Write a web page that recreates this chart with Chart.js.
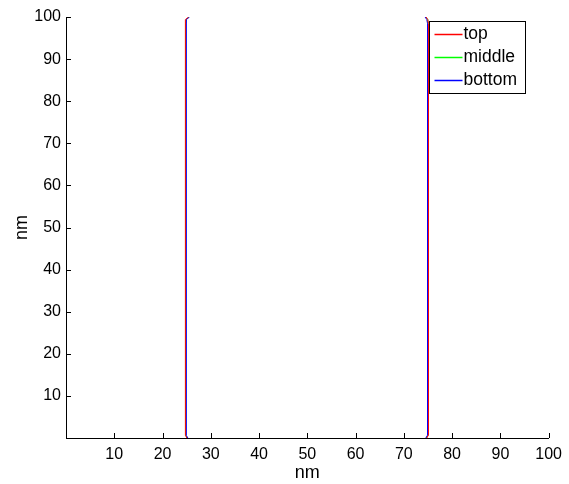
<!DOCTYPE html>
<html>
<head>
<meta charset="utf-8">
<script src="https://cdn.jsdelivr.net/npm/chart.js@4/dist/chart.umd.min.js"></script>
<style>
  html, body { margin: 0; padding: 0; background: #fff; }
  #wrap { width: 569px; height: 484px; }
</style>
</head>
<body>
<div id="wrap"><canvas id="myChart" width="569" height="484"></canvas></div>
<script>
Chart.defaults.font.family = '"Liberation Sans", Arial, sans-serif';
Chart.defaults.color = '#000';

// y positions shared by every curve
var yVals = [0, 0.6, 1.5, 50, 98.5, 99.4, 100];

// x positions of the left and right boundary, per series
var topLeft = [25.05, 24.75, 24.7, 24.7, 24.7, 24.85, 25.4];
var topRight = [74.75, 75.05, 75.1, 75.1, 75.1, 74.95, 74.6];
var midLeft = [25.15, 24.85, 24.8, 24.8, 24.8, 24.95, 25.5];
var midRight = [74.65, 74.95, 75.0, 75.0, 75.0, 74.85, 74.5];
var botLeft = [25.25, 24.95, 24.9, 24.9, 24.9, 25.05, 25.6];
var botRight = [74.55, 74.85, 74.9, 74.9, 74.9, 74.75, 74.4];

var seriesNames = ['top', 'middle', 'bottom'];
var seriesColors = ['#ff0000', '#00ff00', '#0000ff'];
var tickValues = [10, 20, 30, 40, 50, 60, 70, 80, 90, 100];

function curve(left, right) {
  var pts = [];
  for (var i = 0; i < yVals.length; i++) pts.push({x: left[i], y: yVals[i]});
  pts.push({x: null, y: null});
  for (var j = 0; j < yVals.length; j++) pts.push({x: right[j], y: yVals[j]});
  return pts;
}

var allData = [curve(topLeft, topRight), curve(midLeft, midRight), curve(botLeft, botRight)];
var drawOrder = [1, 3, 2]; // green underneath

// inward ticks like the original figure
var innerTicks = {
  id: 'innerTicks',
  afterDraw: function (chart) {
    var c = chart.ctx, a = chart.chartArea;
    var xs = chart.scales.x, ys = chart.scales.y;
    c.save();
    c.strokeStyle = '#000';
    c.lineWidth = 1;
    c.beginPath();
    tickValues.forEach(function (v) {
      var px = Math.round(xs.getPixelForValue(v)) + 0.5;
      c.moveTo(px, a.bottom);
      c.lineTo(px, a.bottom - 5);
      var py = Math.round(ys.getPixelForValue(v)) + 0.5;
      c.moveTo(a.left, py);
      c.lineTo(a.left + 5, py);
    });
    c.stroke();
    c.restore();
  }
};

// boxed legend inside the top right corner
var boxLegend = {
  id: 'boxLegend',
  afterDraw: function (chart) {
    var c = chart.ctx;
    var x0 = 429.5, y0 = 21.5, w = 96, h = 72;
    c.save();
    c.fillStyle = '#fff';
    c.fillRect(x0, y0, w, h);
    c.strokeStyle = '#000';
    c.lineWidth = 1;
    c.strokeRect(x0, y0, w, h);
    c.font = '17.5px "Liberation Sans", Arial, sans-serif';
    c.textBaseline = 'middle';
    c.textAlign = 'left';
    for (var i = 0; i < seriesNames.length; i++) {
      var yy = y0 + 13 + i * 23;
      c.strokeStyle = seriesColors[i];
      c.lineWidth = 1.5;
      c.beginPath();
      c.moveTo(x0 + 5, yy);
      c.lineTo(x0 + 33, yy);
      c.stroke();
      c.fillStyle = '#000';
      c.fillText(seriesNames[i], x0 + 34, yy);
    }
    c.restore();
  }
};

var ctx = document.getElementById('myChart');

var myChart = new Chart(ctx, {
  type: 'scatter',
  data: {
    datasets: seriesNames.map(function (name, i) {
      return {
        label: name,
        data: allData[i],
        order: drawOrder[i],
        showLine: true,
        spanGaps: false,
        borderColor: seriesColors[i],
        backgroundColor: seriesColors[i],
        borderWidth: 1,
        pointRadius: 0,
        tension: 0
      };
    })
  },
  plugins: [innerTicks, boxLegend],
  options: {
    responsive: false,
    animation: false,
    layout: { padding: { top: 17, right: 20, left: 11, bottom: 0 } },
    plugins: {
      legend: { display: false },
      tooltip: { enabled: false }
    },
    scales: {
      x: {
        type: 'linear',
        min: 0,
        max: 100,
        afterFit: function (s) { s.height = 46; },
        afterBuildTicks: function (s) {
          s.ticks = tickValues.map(function (v) { return {value: v}; });
        },
        grid: { display: false, drawTicks: false },
        border: { display: true, color: '#000', width: 1 },
        ticks: { padding: 7, font: { size: 16 }, maxRotation: 0, autoSkip: false },
        title: { display: true, text: 'nm', font: { size: 18 }, padding: { top: 0, bottom: 0 } }
      },
      y: {
        type: 'linear',
        min: 0,
        max: 100,
        afterFit: function (s) { s.width = 55; },
        afterBuildTicks: function (s) {
          s.ticks = tickValues.map(function (v) { return {value: v}; });
        },
        grid: { display: false, drawTicks: false },
        border: { display: true, color: '#000', width: 1 },
        ticks: { padding: 5, font: { size: 16 }, autoSkip: false },
        title: { display: true, text: 'nm', font: { size: 18 }, padding: { top: 0, bottom: 0 } }
      }
    }
  }
});
</script>
</body>
</html>
